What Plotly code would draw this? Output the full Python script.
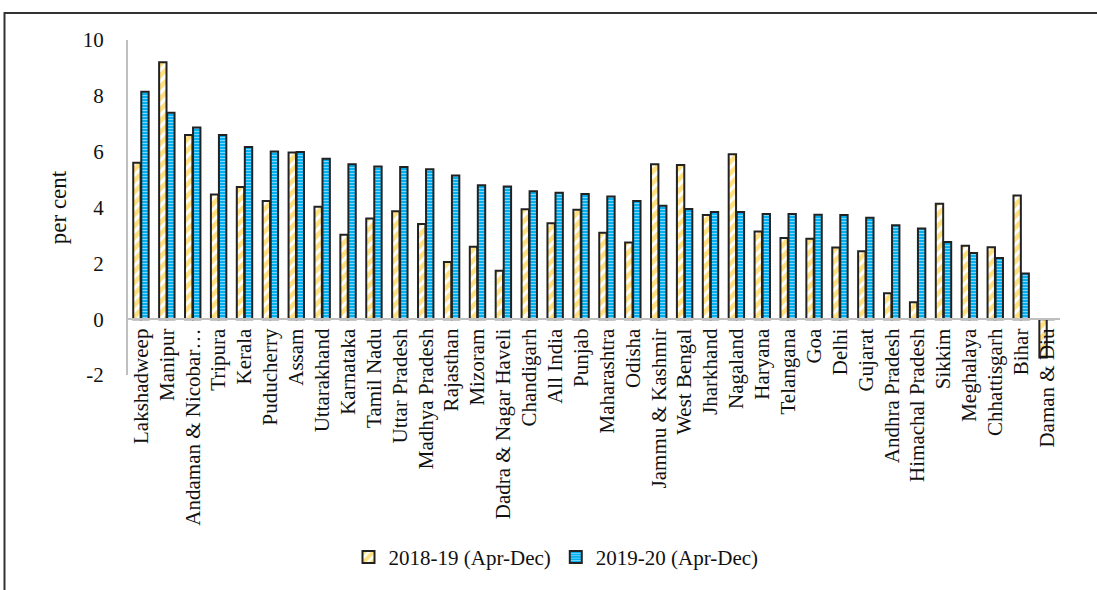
import plotly.graph_objects as go

categories = ["Lakshadweep", "Manipur", "Andaman & Nicobar…", "Tripura", "Kerala",
              "Puducherry", "Assam", "Uttarakhand", "Karnataka", "Tamil Nadu",
              "Uttar Pradesh", "Madhya Pradesh", "Rajasthan", "Mizoram",
              "Dadra & Nagar Haveli", "Chandigarh", "All India", "Punjab",
              "Maharashtra", "Odisha", "Jammu & Kashmir", "West Bengal", "Jharkhand",
              "Nagaland", "Haryana", "Telangana", "Goa", "Delhi", "Gujarat",
              "Andhra Pradesh", "Himachal Pradesh", "Sikkim", "Meghalaya",
              "Chhattisgarh", "Bihar", "Daman & Diu"]

values_2018_19 = [5.60, 9.20, 6.60, 4.47, 4.73, 4.23, 5.97, 4.03, 3.02, 3.61,
                  3.87, 3.41, 2.05, 2.59, 1.73, 3.94, 3.44, 3.92, 3.10, 2.75,
                  5.55, 5.52, 3.73, 5.91, 3.14, 2.91, 2.88, 2.57, 2.43, 0.93,
                  0.61, 4.13, 2.63, 2.58, 4.43, -1.37]

values_2019_20 = [8.15, 7.39, 6.87, 6.60, 6.17, 6.01, 5.99, 5.75, 5.55, 5.47,
                  5.45, 5.37, 5.15, 4.80, 4.75, 4.58, 4.53, 4.48, 4.39, 4.23,
                  4.06, 3.95, 3.84, 3.84, 3.77, 3.77, 3.74, 3.73, 3.63, 3.36,
                  3.25, 2.76, 2.37, 2.19, 1.64, 0.0]

series_names = ["2018-19 (Apr-Dec)", "2019-20 (Apr-Dec)"]
y_ticks = [-2, 0, 2, 4, 6, 8, 10]

W, H = 1097, 590
L, R, T, B = 128, 37, 40, 210
PW, PH = W - L - R, H - T - B

def px_x(px):
    return (px - L) / PW

def px_y(py):
    return (H - B - py) / PH

FONT = "Liberation Serif, Times New Roman, serif"
TXT = "#111111"

fig = go.Figure()
fig.add_trace(go.Bar(
    x=categories, y=values_2018_19, name=series_names[0],
    marker=dict(color="white",
                line=dict(color="#222222", width=2),
                pattern=dict(shape="/", fgcolor="#FFC000", bgcolor="white",
                             size=8, solidity=0.6)),
))
fig.add_trace(go.Bar(
    x=categories, y=values_2019_20, name=series_names[1],
    marker=dict(color="#00B0F0",
                line=dict(color="#222222", width=2),
                pattern=dict(shape="-", fgcolor="white", bgcolor="#00B0F0",
                             size=3, solidity=0.33)),
))

fig.update_layout(
    width=W, height=H,
    margin=dict(l=L, r=R, t=T, b=B),
    paper_bgcolor="white", plot_bgcolor="white",
    barmode="group", bargap=0.38, bargroupgap=0.08,
    font=dict(family=FONT, size=21, color=TXT),
    showlegend=True,
    legend=dict(orientation="h", x=px_x(556), y=px_y(565),
                xanchor="center", yanchor="middle",
                font=dict(family=FONT, size=21, color=TXT),
                itemwidth=30, tracegroupgap=0, bgcolor="rgba(0,0,0,0)"),
    xaxis=dict(
        anchor="free", position=2 / 12,
        showline=True, linecolor="#BFBFBF", linewidth=2,
        ticks="", tickangle=-90, showgrid=False, zeroline=False,
        tickfont=dict(family=FONT, size=21, color=TXT),
        layer="above traces",
    ),
    yaxis=dict(
        range=[-2, 10], tickvals=y_ticks, ticktext=[str(v) for v in y_ticks],
        showline=True, linecolor="#BFBFBF", linewidth=2,
        showgrid=False, zeroline=False, ticks="",
        ticklabelstandoff=18,
        tickfont=dict(family=FONT, size=21, color=TXT),
        title=dict(text="per cent", standoff=10,
                   font=dict(family=FONT, size=23, color=TXT)),
    ),
    shapes=[dict(type="rect", xref="paper", yref="paper",
                 x0=px_x(4.5), x1=px_x(1110), y0=px_y(610), y1=px_y(12.5),
                 line=dict(color="#333333", width=2), fillcolor="rgba(0,0,0,0)",
                 layer="below")],
)

fig.write_html("out.html")
